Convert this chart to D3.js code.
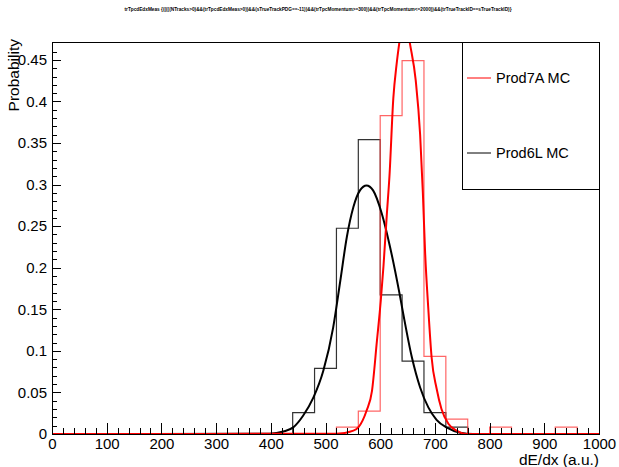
<!DOCTYPE html>
<html lang="en">
<head>
    <meta charset="UTF-8">
    <title>trTpcdEdxMeas</title>
    <script src="https://d3js.org/d3.v7.min.js"></script>
    <style>
        body {
            margin: 0;
            background: #fff;
            font-family: "Liberation Sans", Arial, sans-serif;
        }
        .axis text {
            font-size: 15px;
            fill: #000;
        }
        .axis line {
            stroke: #000;
            shape-rendering: crispEdges;
        }
    </style>
</head>
<body>
    <div id="chart"></div>

    <script>
        // Bin edges: 25 bins of width 40 between 0 and 1000
        const binEdges = [0, 40, 80, 120, 160, 200, 240, 280, 320, 360, 400, 440, 480,
            520, 560, 600, 640, 680, 720, 760, 800, 840, 880, 920, 960, 1000];

        // Histogram contents (probability per bin)
        const prod7A = [0, 0, 0, 0, 0, 0, 0, 0, 0, 0, 0, 0, 0,
            0.0083, 0.0275, 0.383, 0.449, 0.0933, 0.018, 0, 0.0083, 0, 0, 0.0083, 0];
        const prod6L = [0, 0, 0, 0, 0, 0, 0, 0, 0, 0, 0, 0.0256, 0.079,
            0.2475, 0.354, 0.1674, 0.0876, 0.0256, 0.0083, 0, 0, 0, 0, 0, 0];

        // Fitted curves
        const fit7AX = [0, 520, 551, 560, 575, 585, 594, 601, 606, 612, 617, 624, 630, 635,
            644, 654, 665, 673, 678, 682, 688, 694, 703, 712, 725, 740, 758, 1000];
        const fit7AY = [0, 0.0003, 0.004, 0.008, 0.028, 0.052, 0.112, 0.16, 0.202, 0.263, 0.311, 0.404, 0.445, 0.471,
            0.51, 0.471, 0.425, 0.36, 0.29, 0.22, 0.15, 0.092, 0.055, 0.03, 0.012, 0.004, 0, 0];

        const fit6LX = [0, 398, 423, 441, 459, 478, 496, 514, 527, 539, 551, 563, 575, 587,
            603, 618, 635, 642, 658, 673, 688, 703, 722, 746, 770, 1000];
        const fit6LY = [0, 0.0004, 0.003, 0.008, 0.022, 0.044, 0.076, 0.128, 0.184, 0.237, 0.273, 0.293, 0.299, 0.293,
            0.265, 0.225, 0.17, 0.145, 0.092, 0.056, 0.032, 0.017, 0.0076, 0.0016, 0, 0];

        // Axis ticks
        const xTicks = [0, 100, 200, 300, 400, 500, 600, 700, 800, 900, 1000];
        const yTicks = [0, 0.05, 0.1, 0.15, 0.2, 0.25, 0.3, 0.35, 0.4, 0.45];

        const titleText = "trTpcdEdxMeas {(((((NTracks>0)&&(trTpcdEdxMeas>0))&&(sTrueTrackPDG==-11))&&(trTpcMomentum>=300))&&(trTpcMomentum<=2000))&&(trTrueTrackID==sTrueTrackID)}";

        // Layout
        const W = 619, H = 467;
        const margin = { top: 42, right: 20, bottom: 33, left: 52 };
        const width = W - margin.left - margin.right;
        const height = H - margin.top - margin.bottom;

        const svg = d3.select("#chart")
            .append("svg")
            .attr("width", W)
            .attr("height", H);

        const g = svg.append("g")
            .attr("transform", `translate(${margin.left},${margin.top})`);

        const x = d3.scaleLinear().domain([0, 1000]).range([0, width]);
        const y = d3.scaleLinear().domain([0, 0.4715]).range([height, 0]);

        g.append("clipPath").attr("id", "frame-clip")
            .append("rect")
            .attr("width", width)
            .attr("height", height);

        // Histograms as step outlines
        const step = d3.line()
            .x(d => x(d[0]))
            .y(d => y(d[1]))
            .curve(d3.curveStepAfter);

        function stepPoints(vals) {
            const pts = vals.map((v, i) => [binEdges[i], v]);
            pts.push([binEdges[binEdges.length - 1], vals[vals.length - 1]]);
            return pts;
        }

        const fitLine = d3.line()
            .x(d => x(d[0]))
            .y(d => y(d[1]))
            .curve(d3.curveMonotoneX);

        const plot = g.append("g").attr("clip-path", "url(#frame-clip)");

        plot.append("path")
            .attr("d", step(stepPoints(prod6L)))
            .attr("fill", "none")
            .attr("stroke", "#333")
            .attr("stroke-width", 1.2);

        plot.append("path")
            .attr("d", step(stepPoints(prod7A)))
            .attr("fill", "none")
            .attr("stroke", "#ff4040")
            .attr("stroke-opacity", 0.8)
            .attr("stroke-width", 1.2);

        plot.append("path")
            .attr("d", fitLine(fit6LX.map((v, i) => [v, fit6LY[i]])))
            .attr("fill", "none")
            .attr("stroke", "#000")
            .attr("stroke-width", 2);

        plot.append("path")
            .attr("d", fitLine(fit7AX.map((v, i) => [v, fit7AY[i]])))
            .attr("fill", "none")
            .attr("stroke", "#ff0000")
            .attr("stroke-width", 2);

        // Axes (ROOT style: ticks pointing into the frame)
        const xAxis = g.append("g")
            .attr("class", "axis")
            .attr("transform", `translate(0,${height})`)
            .call(d3.axisBottom(x).tickValues(xTicks).tickSizeInner(-11).tickSizeOuter(0).tickPadding(4)
                .tickFormat(d3.format("d")));
        xAxis.select(".domain").remove();

        const xMinor = g.append("g")
            .attr("class", "axis")
            .attr("transform", `translate(0,${height})`)
            .call(d3.axisBottom(x).tickValues(d3.range(0, 1001, 20)).tickSizeInner(-6).tickSizeOuter(0));
        xMinor.select(".domain").remove();
        xMinor.selectAll("text").remove();

        const yAxis = g.append("g")
            .attr("class", "axis")
            .call(d3.axisLeft(y).tickValues(yTicks).tickSizeInner(-9).tickSizeOuter(0).tickPadding(5)
                .tickFormat(d => String(+d.toFixed(2))));
        yAxis.select(".domain").remove();

        const yMinor = g.append("g")
            .attr("class", "axis")
            .call(d3.axisLeft(y).tickValues(d3.range(0, 0.47, 0.01)).tickSizeInner(-5).tickSizeOuter(0));
        yMinor.select(".domain").remove();
        yMinor.selectAll("text").remove();

        // Frame
        g.append("rect")
            .attr("width", width)
            .attr("height", height)
            .attr("fill", "none")
            .attr("stroke", "#000")
            .attr("stroke-width", 1)
            .style("shape-rendering", "crispEdges");

        // Axis titles
        svg.append("text")
            .attr("x", margin.left + width)
            .attr("y", 465)
            .attr("text-anchor", "end")
            .style("font-size", "15.5px")
            .text("dE/dx (a.u.)");

        svg.append("text")
            .attr("transform", "rotate(-90)")
            .attr("x", -margin.top + 3)
            .attr("y", 19)
            .attr("text-anchor", "end")
            .style("font-size", "15.5px")
            .text("Probability");

        // Title
        svg.append("text")
            .attr("x", 318)
            .attr("y", 11)
            .attr("text-anchor", "middle")
            .attr("textLength", 387)
            .attr("lengthAdjust", "spacingAndGlyphs")
            .style("font-size", "5.5px")
            .style("font-weight", "bold")
            .text(titleText);

        // Legend
        const legend = svg.append("g");
        legend.append("rect")
            .attr("x", 462)
            .attr("y", margin.top)
            .attr("width", margin.left + width - 462)
            .attr("height", 147)
            .attr("fill", "#fff")
            .attr("stroke", "#000")
            .style("shape-rendering", "crispEdges");

        const legendItems = [
            { label: "Prod7A MC", color: "#ff0000", y: 78 },
            { label: "Prod6L MC", color: "#000", y: 153 }
        ];
        legendItems.forEach(item => {
            legend.append("line")
                .attr("x1", 467).attr("x2", 491)
                .attr("y1", item.y).attr("y2", item.y)
                .attr("stroke", item.color)
                .attr("stroke-width", 1);
            legend.append("text")
                .attr("x", 496)
                .attr("y", item.y)
                .attr("dy", "0.35em")
                .style("font-size", "14.5px")
                .text(item.label);
        });
    </script>
</body>
</html>
